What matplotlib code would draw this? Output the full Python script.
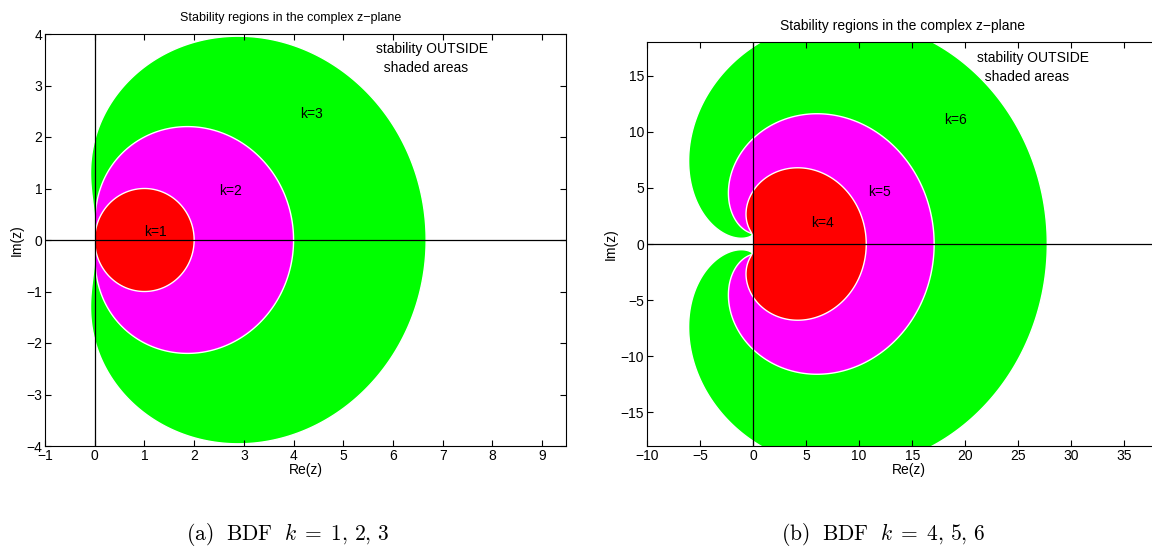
import numpy as np
import matplotlib
matplotlib.use('Agg')
import matplotlib.pyplot as plt

# BDF orders shown in each panel, with fill colour per order
orders_left = [3, 2, 1]
orders_right = [6, 5, 4]
colors_left = ['#00ff00', '#ff00ff', '#ff0000']
colors_right = ['#00ff00', '#ff00ff', '#ff0000']

# label positions (data coords) for "k=.." texts
labels_left = {3: (4.13, 2.37), 2: (2.5, 0.87), 1: (1.0, 0.08)}
labels_right = {6: (18.0, 10.7), 5: (10.8, 4.3), 4: (5.5, 1.5)}

theta = np.linspace(0, 2 * np.pi, 2000)


def bdf_boundary(k):
    # boundary locus of the k-step BDF method
    w = 1 - np.exp(-1j * theta)
    z = np.zeros_like(w)
    for j in range(1, k + 1):
        z += w ** j / j
    return z


plt.rcParams['font.family'] = ['Liberation Sans', 'DejaVu Sans']
plt.rcParams['font.size'] = 10
plt.rcParams['mathtext.fontset'] = 'cm'

fig = plt.figure(figsize=(11.52, 5.46), dpi=100)
W, H = 1152, 546


def panel(rect_px, orders, colors, labels, xlim, ylim, xticks, yticks,
          note_xy, caption, cap_x, title_xy, title_size):
    l, t, r, b = rect_px
    ax = fig.add_axes([l / W, 1 - b / H, (r - l) / W, (b - t) / H])
    for k, c in zip(orders, colors):
        z = bdf_boundary(k)
        ax.fill(z.real, z.imag, facecolor=c, edgecolor='white', lw=1.0)
    ax.axhline(0, color='black', lw=0.9)
    ax.axvline(0, color='black', lw=0.9)
    for k, (x, y) in labels.items():
        ax.text(x, y, 'k={}'.format(k), fontsize=10)
    ax.text(note_xy[0], note_xy[1], 'stability OUTSIDE\n  shaded areas',
            fontsize=10, va='top', linespacing=1.45)
    ax.set_xlim(*xlim)
    ax.set_ylim(*ylim)
    ax.set_xticks(xticks)
    ax.set_yticks(yticks)
    ax.tick_params(direction='in', top=True, right=True, length=4,
                   labelsize=10, pad=2)
    ax.set_xlabel('Re(z)', labelpad=0)
    ax.set_ylabel('Im(z)', labelpad=2)
    fig.text(title_xy[0] / W, 1 - title_xy[1] / H,
             'Stability regions in the complex z\u2212plane',
             ha='center', va='center', fontsize=title_size)
    fig.text(cap_x / W, 1 - 534 / H, caption, ha='center', va='center',
             fontsize=15.5)
    return ax


panel((45, 34, 566, 446), orders_left, colors_left, labels_left,
      (-1, 9.48), (-4, 4), range(-1, 10), range(-4, 5),
      (5.65, 3.85), r'$\mathrm{(a)\ \ BDF}\ \ k\;=\;1,\,2,\,3$',
      288, (291, 18), 9)

panel((647, 42, 1170, 446), orders_right, colors_right, labels_right,
      (-10, 39.3), (-18, 18), range(-10, 40, 5), range(-15, 20, 5),
      (21.1, 17.2), r'$\mathrm{(b)\ \ BDF}\ \ k\;=\;4,\,5,\,6$',
      883, (902, 26), 10)

fig.savefig('out.png', dpi=100)
